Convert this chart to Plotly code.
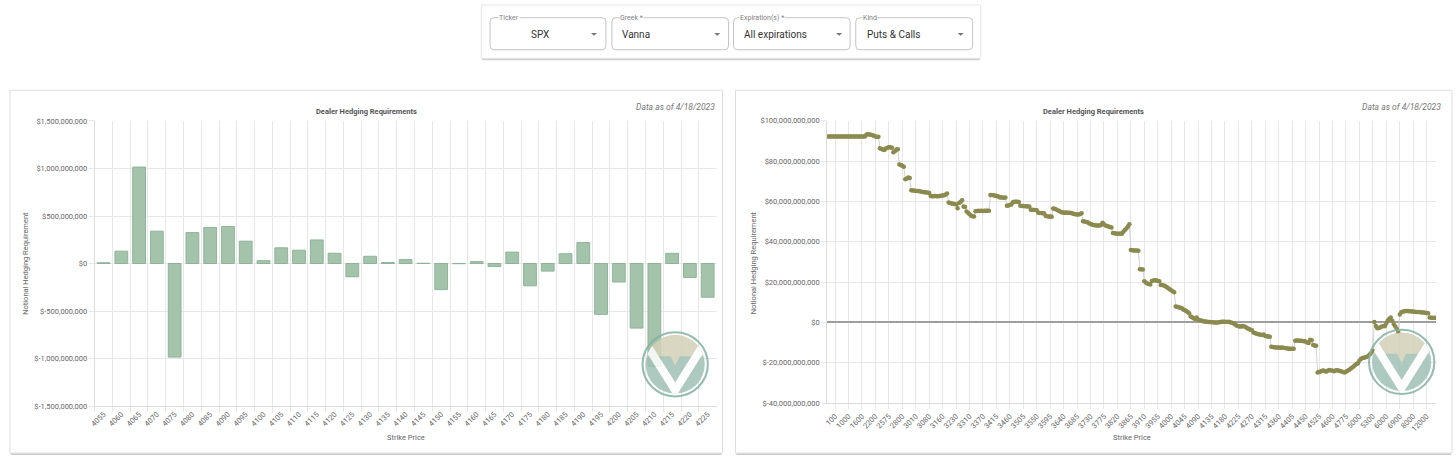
import base64
import plotly.graph_objects as go

W, H = 1456, 463

# ---------------- data ----------------
left_strikes = ["4055", "4060", "4065", "4070", "4075", "4080", "4085", "4090", "4095", "4100",
                "4105", "4110", "4115", "4120", "4125", "4130", "4135", "4140", "4145", "4150",
                "4155", "4160", "4165", "4170", "4175", "4180", "4185", "4190", "4195", "4200",
                "4205", "4210", "4215", "4220", "4225"]
# notional hedging requirement, $ millions
left_values = [8, 130, 1015, 340, -985, 325, 380, 390, 235, 30,
               165, 140, 248, 108, -140, 76, 10, 41, 3, -275,
               -2, 20, -32, 120, -235, -80, 103, 220, -535, -195,
               -680, -1085, 107, -148, -355]
left_ytick_vals = [-1500, -1000, -500, 0, 500, 1000, 1500]
left_ytick_text = ["$-1,500,000,000", "$-1,000,000,000", "$-500,000,000", "$0",
                   "$500,000,000", "$1,000,000,000", "$1,500,000,000"]

# right chart: strike labels shown on the axis (every 9th strike)
right_tick_labels = ["100", "1000", "1600", "2200", "2575", "2800", "3010", "3080", "3160", "3230",
                     "3310", "3370", "3415", "3460", "3505", "3550", "3595", "3640", "3685", "3730",
                     "3775", "3820", "3865", "3910", "3955", "4000", "4045", "4090", "4135", "4180",
                     "4225", "4270", "4315", "4360", "4405", "4450", "4525", "4600", "4775", "5000",
                     "5300", "6000", "6900", "8000", "12000"]
# notional hedging requirement per strike, $ billions
right_values = [
    92.2, 92.2, 92.2, 92.2, 92.2,
    92.2, 92.2, 92.2, 92.2, 92.2, 92.2, 92.2, 92.2, 92.2,
    92.2, 92.2, 92.2, 92.2, 92.2, 92.2, 92.2, 92.2, 92.2,
    92.2, 92.2, 92.2,
    93.2, 93.3, 93.2, 93.0,
    92.8, 92.5, 92.2, 91.9, 92.1,
    86.3, 86.0, 85.7, 85.5,
    86.2, 86.6, 86.8, 86.8, 86.6,
    84.4, 84.8, 85.7, 85.8,
    78.3, 78.0, 77.6, 77.2,
    71.0, 71.4, 71.8, 71.6,
    65.5, 65.4, 65.4, 65.2, 65.1, 65.1, 64.9, 64.8, 64.7, 64.5, 64.4, 64.4, 64.2,
    62.7, 62.6, 62.6, 62.7, 62.6, 62.6, 62.7, 62.8, 62.9, 63.0,
    63.4, 63.9,
    59.5, 59.2, 59.0, 58.8, 58.7, 58.5,
    56.6,
    59.2, 59.8, 60.6,
    57.4, 57.2,
    55.0, 54.3, 53.6, 53.0,
    52.6, 52.5,
    55.1, 55.2, 55.3, 55.2, 55.3, 55.2, 55.3, 55.4, 55.3, 55.4,
    63.1, 63.2, 63.0, 62.9, 62.7, 62.5,
    62.0, 61.9, 61.9, 61.8, 61.9,
    57.8, 58.0, 58.2, 58.4,
    59.6, 59.8, 59.8, 59.8, 59.7,
    57.8, 57.7, 57.7, 57.6, 57.6, 57.5, 57.4,
    55.9, 55.8, 55.7, 55.7, 55.6,
    54.3, 54.2, 54.2, 54.1, 54.0,
    52.7, 52.6, 52.5, 52.5, 52.4,
    56.5, 56.3,
    56.0, 55.6, 55.2, 54.8, 54.5,
    54.5, 54.4, 54.5, 54.3, 54.4, 54.2, 54.0, 53.8, 53.6, 53.5, 53.5, 53.7, 54.1,
    50.2, 50.0, 49.8, 49.6, 49.2,
    48.8, 48.5, 48.3, 48.2, 48.0, 48.1, 48.0,
    48.3, 49.4, 48.7,
    48.0, 47.8, 47.5, 47.3, 47.1,
    44.3, 44.2, 44.1, 44.0, 44.0, 44.1, 43.9,
    45.0, 45.8, 46.6, 47.6, 48.6,
    35.9, 35.8, 35.7, 35.6, 35.6, 35.5,
    26.4, 26.3, 26.2,
    20.4, 19.8, 19.3, 19.0, 18.8,
    20.5, 20.8, 20.9, 20.8, 20.6, 20.4,
    18.6, 18.5, 18.3, 17.9, 17.5,
    16.9, 16.4, 15.9, 15.4, 14.9,
    7.9, 7.7, 7.5, 7.3, 7.1,
    6.4, 6.1, 5.6, 5.1, 4.6,
    2.9, 2.5, 2.0, 1.7, 2.4,
    1.4, 1.1, 0.9, 0.7, 0.5,
    0.4, 0.3, 0.2, 0.2,
    0.1, 0.1, 0.0, 0.0, 0.0, 0.1, 0.2, 0.3, 0.3, 0.3, 0.2, 0.3,
    0.2, 0.0, -0.3, -0.6,
    -1.2, -1.6, -1.9, -2.0, -2.0, -1.8, -2.0,
    -2.4, -2.9, -3.3, -3.7, -3.9,
    -5.0, -5.3, -5.6, -5.8, -6.0,
    -6.1, -6.2, -6.0,
    -6.8, -6.9, -7.0, -7.1,
    -12.1, -12.2, -12.3, -12.4, -12.4, -12.5, -12.6, -12.5, -12.6, -12.7, -12.8, -12.9, -13.0, -13.0, -13.1, -13.0,
    -9.1, -9.0, -9.0, -9.1, -9.1, -9.2, -9.3, -9.5, -9.9, -10.2,
    -8.6, -8.8,
    -11.2, -11.4, -11.6,
    -24.8, -24.6, -24.3, -24.0, -23.9, -24.2, -24.3, -23.8, -23.6, -23.8, -24.0, -24.2, -23.9, -23.7, -23.8, -24.1, -24.3, -24.6,
    -24.8, -24.5, -24.0, -23.6, -23.0, -22.5, -21.9, -21.2, -20.6, -20.2,
    -18.9, -18.2, -17.7, -17.5, -17.3, -17.0, -16.5, -15.8,
    -14.9, -14.0,
    0.2,
    -1.8, -2.9, -2.8, -2.4, -2.0, -1.8, -1.9,
    -0.5, 1.0, 1.8, 2.4,
    0.8, -0.9, -2.0, -3.3, -4.8,
    3.9, 5.0,
    5.3, 5.5, 5.6, 5.6, 5.5, 5.5, 5.4, 5.4, 5.3, 5.2, 5.2, 5.1, 5.0, 4.9, 4.9, 4.8, 4.7,
    4.6,
    2.4, 2.3, 2.3, 2.2, 2.3,
]
right_ytick_vals = [-40, -20, 0, 20, 40, 60, 80, 100]
right_ytick_text = ["$-40,000,000,000", "$-20,000,000,000", "$0", "$20,000,000,000",
                    "$40,000,000,000", "$60,000,000,000", "$80,000,000,000", "$100,000,000,000"]

controls = [("Ticker", "SPX"), ("Greek *", "Vanna"),
            ("Expiration(s) *", "All expirations"), ("Kind", "Puts & Calls")]

# ---------------- helpers ----------------
def px(x):
    return x / W


def py(y):
    return 1 - y / H


def rrect(x0, y0, x1, y1, r):
    pts = [
        f"M {px(x0 + r)},{py(y0)}",
        f"L {px(x1 - r)},{py(y0)}",
        f"Q {px(x1)},{py(y0)} {px(x1)},{py(y0 + r)}",
        f"L {px(x1)},{py(y1 - r)}",
        f"Q {px(x1)},{py(y1)} {px(x1 - r)},{py(y1)}",
        f"L {px(x0 + r)},{py(y1)}",
        f"Q {px(x0)},{py(y1)} {px(x0)},{py(y1 - r)}",
        f"L {px(x0)},{py(y0 + r)}",
        f"Q {px(x0)},{py(y0)} {px(x0 + r)},{py(y0)} Z",
    ]
    return " ".join(pts)


FONT = "Roboto, Arial, sans-serif"
GRID = "#e7e7e7"
TICKC = "#666666"

fig = go.Figure()

fig.add_trace(go.Bar(
    x=left_strikes, y=left_values, xaxis="x", yaxis="y",
    marker=dict(color="#a4c3ab", line=dict(color="#8fb39a", width=1)),
    showlegend=False, hoverinfo="x+y",
))

right_x = list(range(len(right_values)))
fig.add_trace(go.Scatter(
    x=right_x, y=right_values, xaxis="x2", yaxis="y2",
    mode="lines+markers",
    line=dict(color="#d2d2d2", width=1),
    marker=dict(size=4.5, color="#8b8a4f", line=dict(width=0)),
    showlegend=False,
))

right_tickvals = [5 + 9 * k for k in range(len(right_tick_labels))]

axis_common = dict(
    showgrid=True, gridcolor=GRID, gridwidth=1,
    ticks="outside", ticklen=5, tickcolor=GRID,
    tickfont=dict(family=FONT, size=7.5, color=TICKC),
    showline=True, linecolor="#dcdcdc", linewidth=1,
    fixedrange=True,
)

fig.update_layout(
    width=W, height=H,
    margin=dict(l=0, r=0, t=0, b=0),
    paper_bgcolor="#ffffff", plot_bgcolor="rgba(0,0,0,0)",
    bargap=0.28,
    font=dict(family=FONT, color=TICKC),
    xaxis=dict(axis_common, domain=[px(90), px(714)], anchor="y", type="category",
               tickson="boundaries", tickangle=-45),
    yaxis=dict(axis_common, domain=[py(410), py(119.3)], anchor="x",
               range=[-1500, 1500], tickvals=left_ytick_vals, ticktext=left_ytick_text,
               zeroline=False),
    xaxis2=dict(axis_common, domain=[px(825), px(1436)], anchor="y2",
                range=[-0.3, len(right_values) - 0.7],
                tickvals=right_tickvals, ticktext=right_tick_labels, tickangle=-45,
                zeroline=False),
    yaxis2=dict(axis_common, domain=[py(407), py(119)], anchor="x2",
                range=[-40, 100], tickvals=right_ytick_vals, ticktext=right_ytick_text,
                zeroline=True, zerolinecolor="#9e9e9e", zerolinewidth=2),
)

shapes = []
# cards
for (x0, x1) in [(5, 720), (733, 1452)]:
    shapes.append(dict(type="rect", xref="paper", yref="paper", layer="below",
                       x0=px(x0), x1=px(x1), y0=py(458), y1=py(88),
                       line=dict(color="#dedede", width=1), fillcolor="#ffffff"))
    shapes.append(dict(type="line", xref="paper", yref="paper", layer="below",
                       x0=px(x0 + 1), x1=px(x1 - 1), y0=py(459.2), y1=py(459.2),
                       line=dict(color="#c9c9c9", width=1.5)))
# control bar paper
shapes.append(dict(type="rect", xref="paper", yref="paper", layer="below",
                   x0=px(478), x1=px(979), y0=py(55.5), y1=py(1),
                   line=dict(color="#e6e6e6", width=1), fillcolor="#ffffff"))
shapes.append(dict(type="line", xref="paper", yref="paper", layer="below",
                   x0=px(479), x1=px(978), y0=py(56.6), y1=py(56.6),
                   line=dict(color="#cfcfcf", width=1.5)))
field_x = [(486.7, 603), (609, 726), (731, 848), (853.7, 971)]
for (x0, x1) in field_x:
    shapes.append(dict(type="path", xref="paper", yref="paper", layer="below",
                       path=rrect(x0, 14, x1, 46.7, 4),
                       line=dict(color="#c4c4c4", width=1), fillcolor="#ffffff"))
# dropdown arrows
for cx in [591, 714.7, 837, 959]:
    shapes.append(dict(type="path", xref="paper", yref="paper",
                       path=f"M {px(cx - 3)},{py(29.5)} L {px(cx + 3)},{py(29.5)} L {px(cx)},{py(32.5)} Z",
                       line=dict(width=0), fillcolor="#757575"))
fig.update_layout(shapes=shapes)

ann = []
label_x = [496.7, 617.7, 739, 862]
value_x = [526, 616.7, 739.3, 862.7]
for (lab, val), lx, vx in zip(controls, label_x, value_x):
    ann.append(dict(xref="paper", yref="paper", x=px(lx - 2), y=py(14), text=lab,
                    showarrow=False, xanchor="left", yanchor="middle",
                    font=dict(family=FONT, size=7, color="#808080"),
                    bgcolor="#ffffff", borderpad=0))
    ann.append(dict(xref="paper", yref="paper", x=px(vx), y=py(30.7), text=val,
                    showarrow=False, xanchor="left", yanchor="middle",
                    font=dict(family=FONT, size=10, color="#333333")))

for cx, right_edge, ycx in [(362.5, 714, 402), (1092.5, 1443, 1130.5)]:
    ann.append(dict(xref="paper", yref="paper", x=px(cx), y=py(109.3),
                    text="<b>Dealer Hedging Requirements</b>", showarrow=False,
                    xanchor="center", yanchor="middle",
                    font=dict(family=FONT, size=7.5, color="#555555")))
    ann.append(dict(xref="paper", yref="paper", x=px(right_edge), y=py(105),
                    text="<i>Data as of 4/18/2023</i>", showarrow=False,
                    xanchor="right", yanchor="middle",
                    font=dict(family=FONT, size=8.5, color="#777777")))
    ann.append(dict(xref="paper", yref="paper", x=px(ycx), y=py(442),
                    text="Strike Price", showarrow=False,
                    xanchor="center", yanchor="middle",
                    font=dict(family=FONT, size=7.5, color="#666666")))
for ax in [21, 751]:
    ann.append(dict(xref="paper", yref="paper", x=px(ax), y=py(264),
                    text="Notional Hedging Requirement", showarrow=False, textangle=-90,
                    xanchor="center", yanchor="middle",
                    font=dict(family=FONT, size=7.5, color="#666666")))
fig.update_layout(annotations=ann)

# watermark logo
logo_svg = (
    '<svg xmlns="http://www.w3.org/2000/svg" viewBox="0 0 100 100">'
    '<defs><clipPath id="c"><circle cx="50" cy="50" r="43"/></clipPath></defs>'
    '<circle cx="50" cy="50" r="47.5" fill="none" stroke="#84b0a3" stroke-width="3"/>'
    '<g clip-path="url(#c)">'
    '<rect width="100" height="100" fill="#a0c1b6"/>'
    '<rect width="100" height="38" fill="#d3d1b7"/>'
    '<polygon points="26,0 74,0 50,52" fill="#d3d1b7"/>'
    '<polyline points="8,20 50,88 92,20" fill="none" stroke="#ffffff" stroke-width="12"/>'
    '</g></svg>'
)
logo_src = "data:image/svg+xml;base64," + base64.b64encode(logo_svg.encode()).decode()
images = []
for (cx, cy) in [(672.5, 367.5), (1401.5, 365)]:
    images.append(dict(source=logo_src, xref="paper", yref="paper",
                       x=px(cx - 34.5), y=py(cy - 34.5), sizex=69 / W, sizey=69 / H,
                       xanchor="left", yanchor="top", sizing="stretch",
                       opacity=0.85, layer="above"))
fig.update_layout(images=images)

fig.write_html("out.html", config={"displayModeBar": False},
               post_script="document.body.style.margin='0px';document.body.style.overflow='hidden';")
